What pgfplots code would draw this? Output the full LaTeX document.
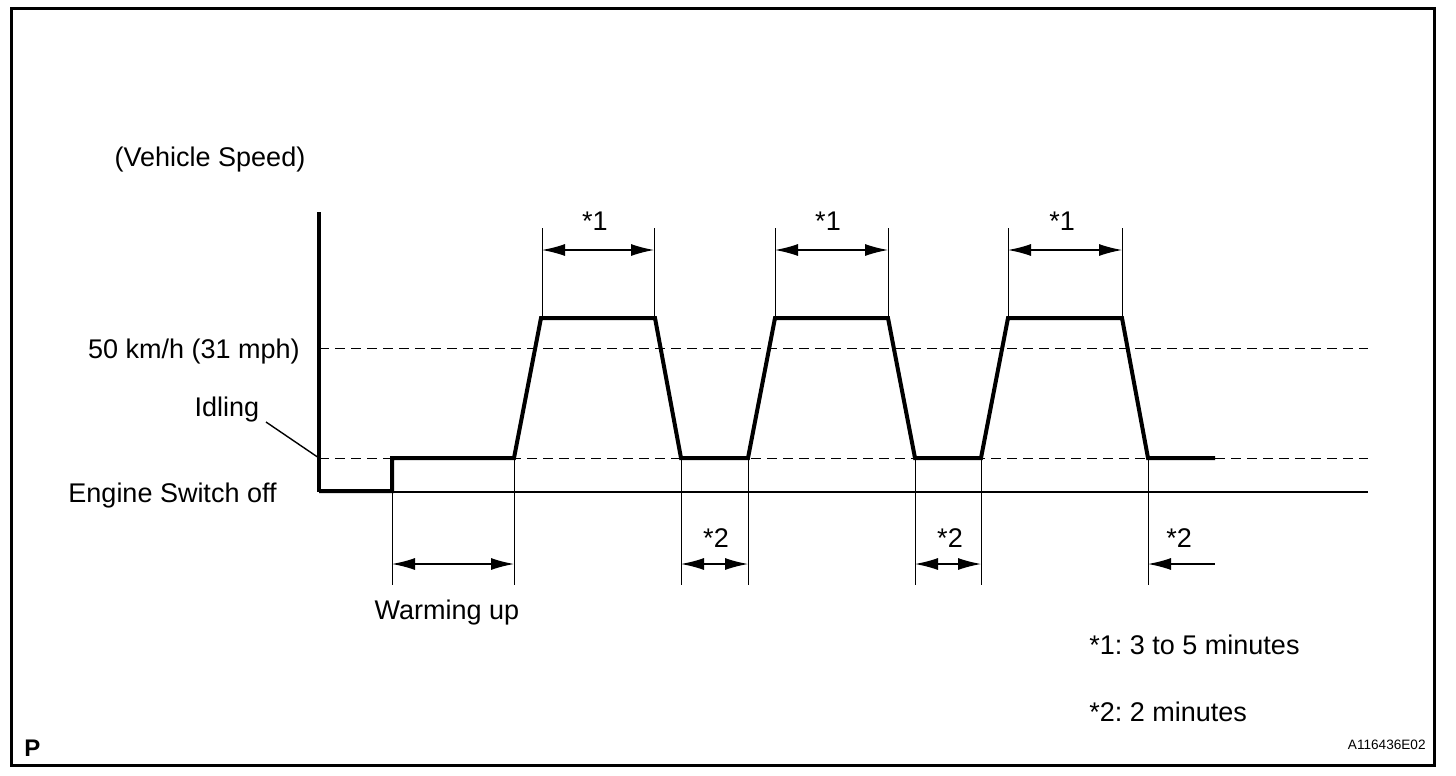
\documentclass[border=0pt]{standalone}
\usepackage{fontspec}
\setmainfont{Liberation Sans}
\usepackage{pgfplots}
\pgfplotsset{compat=1.18}
\usetikzlibrary{arrows.meta}
\frenchspacing
\tikzset{
  guide/.style={line width=0.5pt},
  dim/.style={line width=0.6pt, {Latex[length=11.5pt,width=6pt]}-{Latex[length=11.5pt,width=6pt]}},
  txt/.style={font=\fontsize{13.5}{16}\selectfont, inner sep=0pt},
}
\begin{document}
\begin{tikzpicture}
\begin{axis}[
  scale only axis, width=728pt, height=388pt,
  xmin=0, xmax=1456, ymin=0, ymax=776, y dir=reverse,
  hide axis, clip=false,
  every axis plot/.append style={black, mark=none},
]
\path (axis cs:0,0) rectangle (axis cs:1456,776);
\draw[line width=1.5pt] (axis cs:11,8) rectangle (axis cs:1434,765);

% baseline and reference lines
\addplot[line width=1pt] coordinates {(319,492) (1368,492)};
\addplot[line width=0.5pt, dash pattern=on 5pt off 3pt] coordinates {(319,348) (1368,348)};
\addplot[line width=0.5pt, dash pattern=on 5pt off 3pt] coordinates {(319,458) (1368,458)};
% vertical axis
\addplot[line width=1.6pt] coordinates {(319,212) (319,492)};

% guide lines
\addplot[guide] coordinates {(392,492) (392,585)};
\addplot[guide] coordinates {(514,458) (514,585)};
\addplot[guide] coordinates {(542,318) (542,228)};
\addplot[guide] coordinates {(654,318) (654,228)};
\addplot[guide] coordinates {(681,458) (681,585)};
\addplot[guide] coordinates {(748,458) (748,585)};
\addplot[guide] coordinates {(775,318) (775,228)};
\addplot[guide] coordinates {(888,318) (888,228)};
\addplot[guide] coordinates {(915,458) (915,585)};
\addplot[guide] coordinates {(981,458) (981,585)};
\addplot[guide] coordinates {(1008,318) (1008,228)};
\addplot[guide] coordinates {(1122,318) (1122,228)};
\addplot[guide] coordinates {(1148,458) (1148,585)};

% speed profile
\addplot[line width=2pt, line join=miter] coordinates {
  (319,491) (392,491) (392,458) (514,458) (541,318) (655,318) (681,458)
  (748,458) (775,318) (888,318) (915,458) (981,458) (1008,318) (1122,318)
  (1148,458) (1215,458)};

% dimension arrows
\addplot[dim] coordinates {(542,250) (654,250)};
\addplot[dim] coordinates {(775,250) (888,250)};
\addplot[dim] coordinates {(1008,250) (1122,250)};
\addplot[dim] coordinates {(392,564) (514,564)};
\addplot[dim] coordinates {(681,564) (748,564)};
\addplot[dim] coordinates {(915,564) (981,564)};
\addplot[line width=0.6pt, {Latex[length=11.5pt,width=6pt]}-] coordinates {(1148,564) (1215,564)};

% idling leader
\addplot[line width=0.7pt] coordinates {(266,422) (319,458)};

% texts
\node[txt] at (axis cs:210,160) {(Vehicle Speed)};
\node[txt, anchor=east] at (axis cs:300,352) {50 km/h (31 mph)};
\node[txt] at (axis cs:227,410) {Idling};
\node[txt, anchor=east] at (axis cs:277,496) {Engine Switch off};
\node[txt] at (axis cs:447,613) {Warming up};
\node[txt] at (axis cs:595,221) {*1};
\node[txt] at (axis cs:828,221) {*1};
\node[txt] at (axis cs:1062,221) {*1};
\node[txt] at (axis cs:716,538) {*2};
\node[txt] at (axis cs:950,538) {*2};
\node[txt] at (axis cs:1179,538) {*2};
\node[txt, anchor=west] at (axis cs:1089,645) {*1: 3 to 5 minutes};
\node[txt, anchor=west] at (axis cs:1089,712) {*2: 2 minutes};
\node[font=\fontsize{12}{14}\selectfont\bfseries, inner sep=0pt, anchor=west] at (axis cs:24,748) {P};
\node[font=\fontsize{6.8}{8}\selectfont, inner sep=0pt, anchor=east] at (axis cs:1426,745) {A116436E02};
\end{axis}
\end{tikzpicture}
\end{document}
